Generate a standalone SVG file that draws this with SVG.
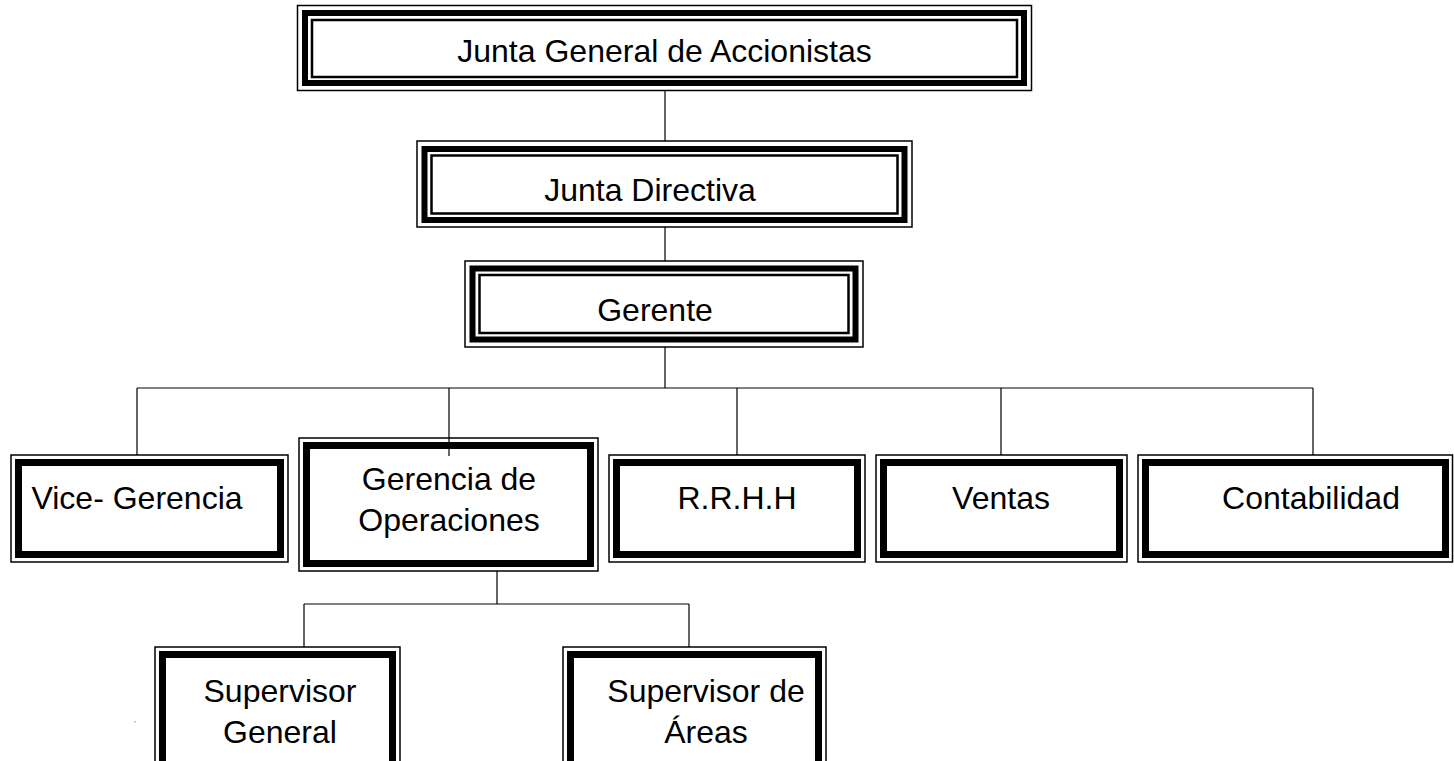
<svg xmlns="http://www.w3.org/2000/svg" width="1454" height="761" viewBox="0 0 1454 761">
<style>
.o{fill:none;stroke:#000;stroke-width:1.5}
.k{fill:none;stroke:#000;stroke-width:6}
.k2{fill:none;stroke:#000;stroke-width:7}
.i{fill:none;stroke:#000;stroke-width:2.5}
.c{fill:none;stroke:#000;stroke-width:1.2}
text{font-family:"Liberation Sans",Arial,sans-serif;font-size:32px;fill:#000;text-anchor:middle}
</style>
<rect width="1454" height="761" fill="#fff"/>
<g id="connectors">
<path class="c" d="M665 90V141M665 227V261M665 347V388M137 388H1313M137 388V455M449 388V456M737 388V455M1001 388V455M1313 388V455M497 571V604M304 604H689M304 604V647M689 604V647"/>
</g>
<g id="n1">
<rect class="o" x="297.5" y="5.5" width="734" height="85"/>
<rect class="k" x="305" y="13" width="719" height="70"/>
<rect class="i" x="312" y="20" width="705" height="57"/>
<text x="664.5" y="62">Junta General de Accionistas</text>
</g>
<g id="n2">
<rect class="o" x="417" y="141" width="495" height="86"/>
<rect class="k" x="424.5" y="149" width="480" height="71"/>
<rect class="i" x="431.5" y="155.5" width="466" height="58"/>
<text x="650" y="201">Junta Directiva</text>
</g>
<g id="n3">
<rect class="o" x="465" y="261" width="398" height="86"/>
<rect class="k" x="472.5" y="268.5" width="383" height="71"/>
<rect class="i" x="479.5" y="275" width="369" height="58"/>
<text x="655" y="321">Gerente</text>
</g>
<g id="n4">
<rect class="o" x="11" y="455" width="277" height="107"/>
<rect class="k2" x="18.5" y="462.5" width="262" height="92"/>
<text x="137" y="509">Vice- Gerencia</text>
</g>
<g id="n5">
<rect class="o" x="299" y="438" width="299" height="133"/>
<rect class="k2" x="306.5" y="445.5" width="284" height="118"/>
<text x="449" y="490">Gerencia de</text>
<text x="449" y="531">Operaciones</text>
</g>
<g id="n6">
<rect class="o" x="609" y="455" width="256" height="107"/>
<rect class="k2" x="616.5" y="462.5" width="241" height="92"/>
<text x="737" y="509">R.R.H.H</text>
</g>
<g id="n7">
<rect class="o" x="876" y="455" width="251" height="107"/>
<rect class="k2" x="883.5" y="462.5" width="236" height="92"/>
<text x="1001" y="509">Ventas</text>
</g>
<g id="n8">
<rect class="o" x="1138" y="455" width="314.5" height="107"/>
<rect class="k2" x="1145.5" y="462.5" width="300" height="92"/>
<text x="1311" y="509">Contabilidad</text>
</g>
<g id="n9">
<rect class="o" x="155" y="647" width="245" height="140"/>
<rect class="k2" x="162.5" y="654.5" width="230" height="125"/>
<text x="280" y="702">Supervisor</text>
<text x="280" y="743">General</text>
</g>
<g id="n10">
<rect class="o" x="563" y="647" width="263" height="140"/>
<rect class="k2" x="570.5" y="654.5" width="248" height="125"/>
<text x="706" y="702">Supervisor de</text>
<text x="706" y="743">Áreas</text>
</g>
<rect x="134.5" y="721" width="1" height="1.5" fill="#888"/>
</svg>
